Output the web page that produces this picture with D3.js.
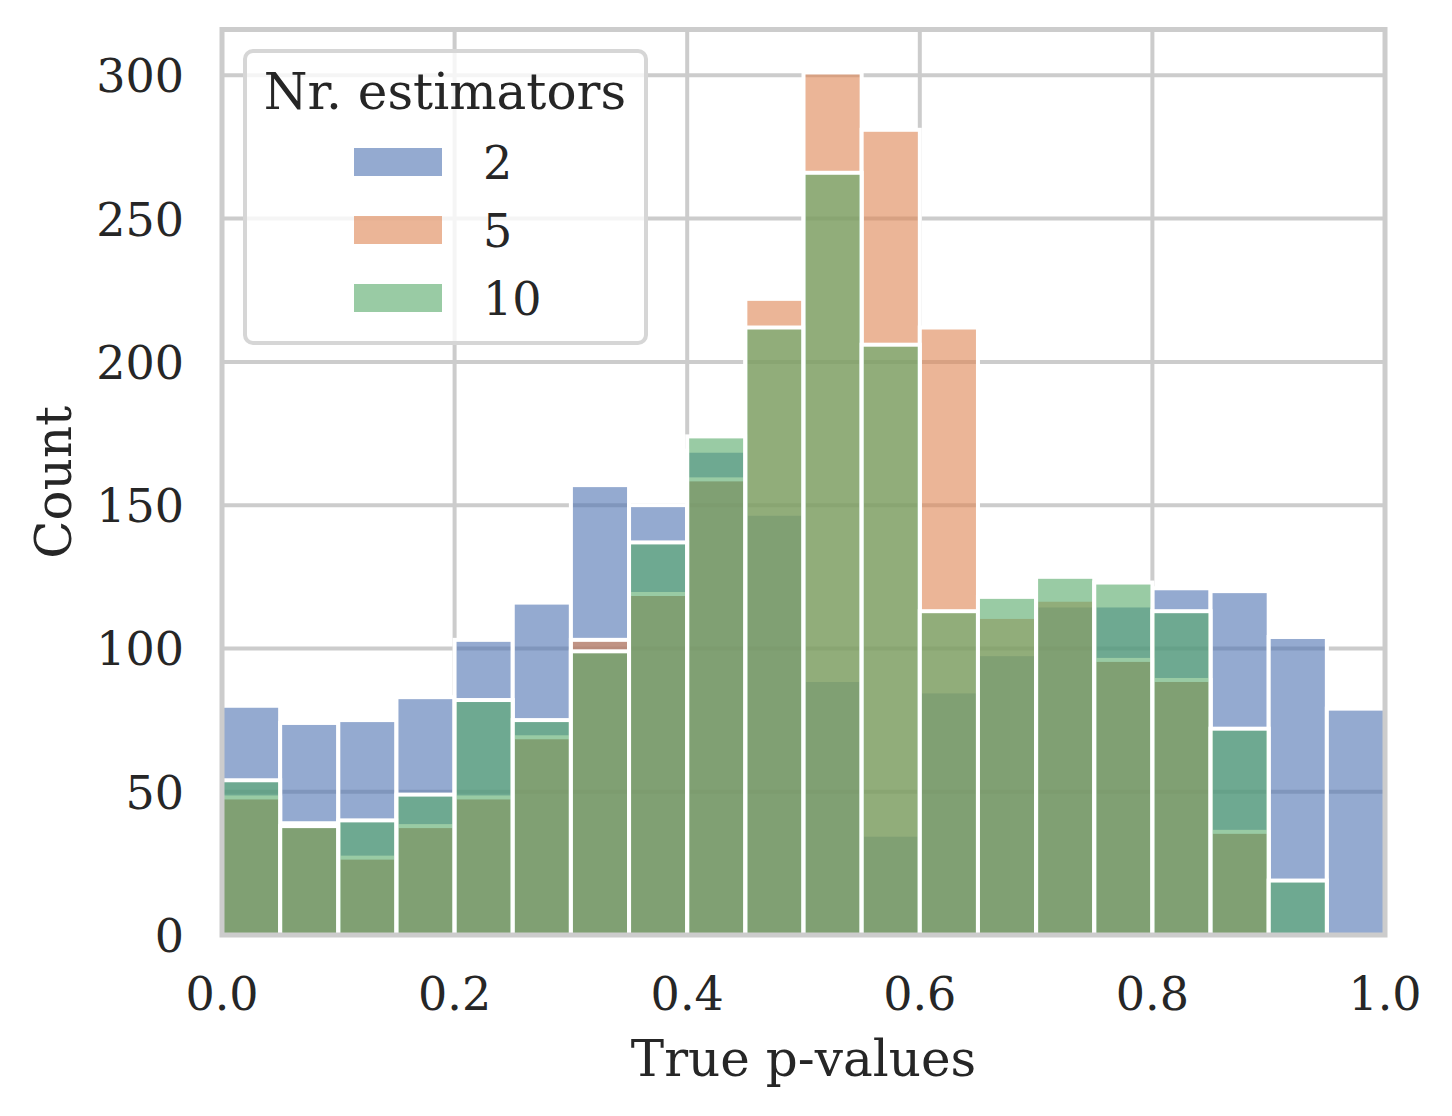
<!DOCTYPE html>
<html>
<head>
<meta charset="utf-8">
<script src="https://cdn.jsdelivr.net/npm/d3@7"></script>
<style>
	body { margin: 0; background: #fff; }
	text { font-family: "DejaVu Serif", serif; fill: #262626; }
</style>
</head>
<body>
<div id="chart"></div>
<script>
(function() {
	// bin edges of the histogram (20 bins, width 0.05)
	var binEdges = d3.range(0, 21).map(function(i) { return i / 20; });

	// counts per bin for each number of estimators
	var counts2 = [80, 74, 75, 83, 103, 116, 157, 150, 169, 147, 89, 35, 85, 98, 115, 115, 121, 120, 104, 79];
	var counts5 = [48, 39, 27, 38, 48, 69, 103, 119, 159, 222, 301, 281, 212, 111, 117, 96, 89, 36, 0, 0];
	var counts10 = [54, 38, 40, 49, 82, 75, 99, 137, 174, 212, 266, 206, 113, 118, 125, 123, 113, 72, 19, 0];

	var seriesNames = ['2', '5', '10'];
	var seriesColors = ['#4c72b0', '#dd8452', '#55a868'];
	var xTicks = [0, 0.2, 0.4, 0.6, 0.8, 1.0];
	var yTicks = [0, 50, 100, 150, 200, 250, 300];

	var W = 1452, H = 1116;
	var left = 222, right = 1385, top = 29.5, bottom = 935;
	var tickSize = '46px', labelSize = '50px';

	var svg = d3.select('#chart').append('svg').attr('width', W).attr('height', H);

	var x = d3.scaleLinear().domain([0, 1]).range([left, right]);
	var y = d3.scaleLinear().domain([0, 316]).range([bottom, top]);

	// grid (below bars)
	var grid = svg.append('g');
	grid.selectAll('line.gx').data(xTicks).enter().append('line')
		.attr('x1', function(d) { return x(d); }).attr('x2', function(d) { return x(d); })
		.attr('y1', top).attr('y2', bottom)
		.attr('stroke', '#cccccc').attr('stroke-width', 4);
	grid.selectAll('line.gy').data(yTicks).enter().append('line')
		.attr('y1', function(d) { return y(d); }).attr('y2', function(d) { return y(d); })
		.attr('x1', left).attr('x2', right)
		.attr('stroke', '#cccccc').attr('stroke-width', 4);

	// layered bars: blue first, green last
	var layers = [counts2, counts5, counts10];
	layers.forEach(function(vals, s) {
		svg.append('g').selectAll('rect').data(vals).enter().append('rect')
			.attr('x', function(d, i) { return x(binEdges[i]); })
			.attr('width', function(d, i) { return x(binEdges[i + 1]) - x(binEdges[i]); })
			.attr('y', function(d) { return y(d); })
			.attr('height', function(d) { return y(0) - y(d); })
			.attr('fill', seriesColors[s]).attr('fill-opacity', 0.6)
			.attr('stroke', '#ffffff').attr('stroke-width', 4);
	});

	// spines on top
	svg.append('rect')
		.attr('x', left).attr('y', top)
		.attr('width', right - left).attr('height', bottom - top)
		.attr('fill', 'none').attr('stroke', '#cccccc').attr('stroke-width', 5);

	// tick labels
	svg.append('g').selectAll('text').data(xTicks).enter().append('text')
		.attr('x', function(d) { return x(d); }).attr('y', 1010)
		.attr('text-anchor', 'middle').style('font-size', tickSize)
		.text(function(d) { return d3.format('.1f')(d); });
	svg.append('g').selectAll('text').data(yTicks).enter().append('text')
		.attr('x', 184).attr('y', function(d) { return y(d) + 17; })
		.attr('text-anchor', 'end').style('font-size', tickSize)
		.text(function(d) { return d; });

	// axis labels
	svg.append('text')
		.attr('x', (left + right) / 2).attr('y', 1076)
		.attr('text-anchor', 'middle').style('font-size', labelSize)
		.text('True p-values');
	svg.append('text')
		.attr('transform', 'translate(71,' + ((top + bottom) / 2) + ') rotate(-90)')
		.attr('text-anchor', 'middle').style('font-size', labelSize)
		.text('Count');

	// legend
	var lg = svg.append('g');
	lg.append('rect')
		.attr('x', 245).attr('y', 51).attr('width', 401).attr('height', 292).attr('rx', 8)
		.attr('fill', '#ffffff').attr('fill-opacity', 0.8)
		.attr('stroke', '#d6d6d6').attr('stroke-width', 4);
	lg.append('text')
		.attr('x', 445).attr('y', 109)
		.attr('text-anchor', 'middle').style('font-size', labelSize)
		.text('Nr. estimators');
	var entries = lg.selectAll('g.entry').data(seriesNames).enter().append('g')
		.attr('transform', function(d, i) { return 'translate(0,' + (i * 68) + ')'; });
	entries.append('rect')
		.attr('x', 354).attr('y', 148).attr('width', 88).attr('height', 28)
		.attr('fill', function(d, i) { return seriesColors[i]; }).attr('fill-opacity', 0.6);
	entries.append('text')
		.attr('x', 483).attr('y', 179).style('font-size', tickSize)
		.text(function(d) { return d; });
})();
</script>
</body>
</html>
